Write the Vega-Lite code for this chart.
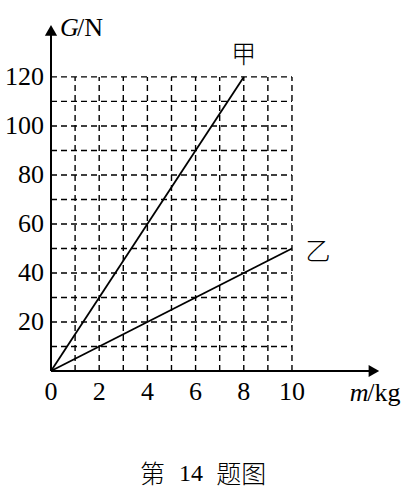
{
  "$schema": "https://vega.github.io/schema/vega-lite/v6.json",
  "width": 327,
  "height": 348,
  "autosize": "none",
  "padding": {"left": 51, "top": 23, "right": 32, "bottom": 124},
  "background": "white",
  "config": {"view": {"stroke": null}},
  "layer": [
    {
      "data": {"values": [{"x": 1}, {"x": 2}, {"x": 3}, {"x": 4}, {"x": 5}, {"x": 6}, {"x": 7}, {"x": 8}, {"x": 9}, {"x": 10}]},
      "mark": {"type": "rule", "color": "black", "strokeWidth": 1.4, "strokeDash": [6, 4]},
      "encoding": {
        "x": {"field": "x", "type": "quantitative", "scale": {"domain": [0, 13.57], "nice": false, "zero": false}, "axis": null},
        "y": {"datum": 0, "type": "quantitative", "scale": {"domain": [0, 142], "nice": false, "zero": false}, "axis": null},
        "y2": {"datum": 120}
      }
    },
    {
      "data": {"values": [{"y": 10}, {"y": 20}, {"y": 30}, {"y": 40}, {"y": 50}, {"y": 60}, {"y": 70}, {"y": 80}, {"y": 90}, {"y": 100}, {"y": 110}, {"y": 120}]},
      "mark": {"type": "rule", "color": "black", "strokeWidth": 1.4, "strokeDash": [6, 4]},
      "encoding": {
        "y": {"field": "y", "type": "quantitative", "axis": null},
        "x": {"datum": 0, "type": "quantitative", "axis": null},
        "x2": {"datum": 10}
      }
    },
    {
      "data": {"values": [
        {"x": 0, "y": 0, "x2": 13.4, "y2": 0},
        {"x": 0, "y": 0, "x2": 0, "y2": 139}
      ]},
      "mark": {"type": "rule", "color": "black", "strokeWidth": 2},
      "encoding": {
        "x": {"field": "x", "type": "quantitative", "axis": null},
        "y": {"field": "y", "type": "quantitative", "axis": null},
        "x2": {"field": "x2"},
        "y2": {"field": "y2"}
      }
    },
    {
      "data": {"values": [
        {"series": "甲", "x": 0, "y": 0}, {"series": "甲", "x": 8, "y": 120},
        {"series": "乙", "x": 0, "y": 0}, {"series": "乙", "x": 10, "y": 50}
      ]},
      "mark": {"type": "line", "color": "black", "strokeWidth": 1.8},
      "encoding": {
        "x": {"field": "x", "type": "quantitative", "axis": null},
        "y": {"field": "y", "type": "quantitative", "axis": null},
        "detail": {"field": "series"}
      }
    },
    {
      "data": {"values": [
        {"x": 13.4, "y": 0, "shape": "triangle-right"},
        {"x": 0, "y": 139, "shape": "triangle-up"}
      ]},
      "mark": {"type": "point", "filled": true, "color": "black", "opacity": 1, "size": 150},
      "encoding": {
        "x": {"field": "x", "type": "quantitative", "axis": null},
        "y": {"field": "y", "type": "quantitative", "axis": null},
        "shape": {"field": "shape", "type": "nominal", "scale": null}
      }
    },
    {
      "data": {"values": [{"v": 0}, {"v": 2}, {"v": 4}, {"v": 6}, {"v": 8}, {"v": 10}]},
      "mark": {"type": "text", "font": "Liberation Serif", "fontSize": 26, "color": "black", "baseline": "middle", "align": "center"},
      "encoding": {
        "x": {"field": "v", "type": "quantitative", "axis": null},
        "y": {"datum": -8.6, "type": "quantitative", "axis": null},
        "text": {"field": "v", "type": "quantitative"}
      }
    },
    {
      "data": {"values": [{"v": 20}, {"v": 40}, {"v": 60}, {"v": 80}, {"v": 100}, {"v": 120}]},
      "mark": {"type": "text", "font": "Liberation Serif", "fontSize": 26, "color": "black", "baseline": "middle", "align": "right", "dx": -7},
      "encoding": {
        "y": {"field": "v", "type": "quantitative", "axis": null},
        "x": {"datum": 0, "type": "quantitative", "axis": null},
        "text": {"field": "v", "type": "quantitative"}
      }
    },
    {
      "data": {"values": [
        {"text": "甲", "x": 8.0, "y": 128.8},
        {"text": "乙", "x": 11.08, "y": 48.6}
      ]},
      "mark": {"type": "text", "font": "Noto Sans CJK SC", "fontSize": 25, "fontWeight": 300, "color": "black", "baseline": "middle", "align": "center"},
      "encoding": {
        "x": {"field": "x", "type": "quantitative", "axis": null},
        "y": {"field": "y", "type": "quantitative", "axis": null},
        "text": {"field": "text"}
      }
    },
    {
      "data": {"values": [
        {"text": "G", "x": 0.37, "y": 140},
        {"text": "m", "x": 12.4, "y": -8.8}
      ]},
      "mark": {"type": "text", "font": "Liberation Serif", "fontStyle": "italic", "fontSize": 26, "color": "black", "baseline": "middle", "align": "left"},
      "encoding": {
        "x": {"field": "x", "type": "quantitative", "axis": null},
        "y": {"field": "y", "type": "quantitative", "axis": null},
        "text": {"field": "text"}
      }
    },
    {
      "data": {"values": [
        {"text": "/N", "x": 1.08, "y": 140},
        {"text": "/kg", "x": 13.12, "y": -8.8}
      ]},
      "mark": {"type": "text", "font": "Liberation Serif", "fontSize": 26, "color": "black", "baseline": "middle", "align": "left"},
      "encoding": {
        "x": {"field": "x", "type": "quantitative", "axis": null},
        "y": {"field": "y", "type": "quantitative", "axis": null},
        "text": {"field": "text"}
      }
    },
    {
      "data": {"values": [
        {"text": "第", "x": 4.21, "y": -42.4},
        {"text": "题图", "x": 7.9, "y": -42.4}
      ]},
      "mark": {"type": "text", "font": "Noto Sans CJK SC", "fontSize": 25, "fontWeight": 300, "color": "black", "baseline": "middle", "align": "center"},
      "encoding": {
        "x": {"field": "x", "type": "quantitative", "axis": null},
        "y": {"field": "y", "type": "quantitative", "axis": null},
        "text": {"field": "text"}
      }
    },
    {
      "data": {"values": [{"text": "14", "x": 5.81, "y": -42.0}]},
      "mark": {"type": "text", "font": "Liberation Serif", "fontSize": 24, "color": "black", "baseline": "middle", "align": "center"},
      "encoding": {
        "x": {"field": "x", "type": "quantitative", "axis": null},
        "y": {"field": "y", "type": "quantitative", "axis": null},
        "text": {"field": "text"}
      }
    }
  ]
}
